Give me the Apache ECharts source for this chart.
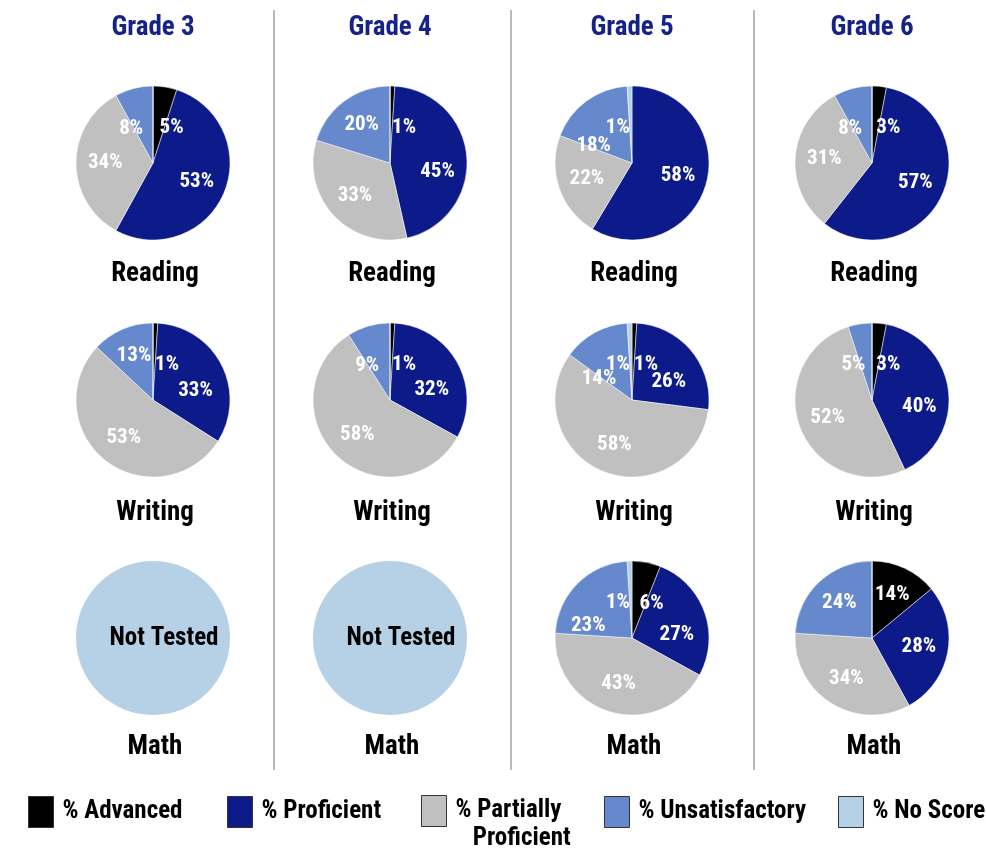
<!DOCTYPE html>
<html>
<head>
<meta charset="utf-8">
<title>Grade results</title>
<script src="https://cdn.jsdelivr.net/npm/echarts@6/dist/echarts.min.js"></script>
<style>
  html, body { margin: 0; padding: 0; background: #fff; }
  #chart { width: 986px; height: 852px; }
</style>
</head>
<body>
<div id="chart"></div>
<script>
// data
var grades = ['Grade 3', 'Grade 4', 'Grade 5', 'Grade 6'];
var subjects = ['Reading', 'Writing', 'Math'];
var levels = ['% Advanced', '% Proficient', '% Partially Proficient', '% Unsatisfactory', '% No Score'];
// order: advanced, proficient, partially, unsatisfactory, no score
var reading = [[5, 53, 34, 8, 0], [1, 45, 33, 20, 0], [0, 58, 22, 18, 1], [3, 57, 31, 8, 0]];
var writing = [[1, 33, 53, 13, 0], [1, 32, 58, 9, 0], [1, 26, 58, 14, 1], [3, 40, 52, 5, 0]];
var math = [null, null, [6, 27, 43, 23, 1], [14, 28, 34, 24, 0]];
var notTested = 'Not Tested';

var colors = ['#000000', '#0c1a8a', '#c0c0c0', '#6688cc', '#b6d0e6'];
var font = '"Roboto Condensed", "Open Sans Condensed", sans-serif';

var colX = [153, 390, 632, 872];
var rowY = [163, 400, 638];
var subjectY = [274, 513, 747];
var R = 77;

var chart = echarts.init(document.getElementById('chart'));

function pieData(vals) {
  return vals.map(function (v, i) {
    return {
      name: levels[i],
      value: v,
      itemStyle: { color: colors[i] },
      label: { show: v > 0 }
    };
  });
}

// small slices near the top: put the label on one side of the start line,
// bigger ones a bit further out from the centre
function makeLabelLayout(vals, cx, cy) {
  return function (p) {
    var i = p.dataIndex;
    var v = vals[i];
    var rc = p.labelRect;
    var lx = rc.x + rc.width / 2, ly = rc.y + rc.height / 2;
    var out = { hideOverlap: false, moveOverlap: false };
    if (v < 10 && (i === 0 || i >= 3)) {
      var side = i === 0 ? 1 : -1;
      out.dx = (lx - cx) * -0.15 + side * (rc.width / 2 + 1);
      out.dy = (ly - cy) * -0.15;
    } else {
      out.dx = (lx - cx) * 0.15;
      out.dy = (ly - cy) * 0.15;
      // make room for the tiny labels at the top
      if (i === 3 && vals[4] > 0) {
        out.dx -= 10;
        out.dy += rc.height;
      }
      if (i === 1 && vals[0] > 0 && vals[0] < 10 && ly < cy + 10) {
        out.dy += rc.height * 0.6;
      }
    }
    return out;
  };
}

var series = [];
var table = [reading, writing, math];
table.forEach(function (rows, r) {
  rows.forEach(function (vals, c) {
    if (vals) {
      series.push({
        type: 'pie',
        center: [colX[c], rowY[r]],
        radius: R,
        startAngle: 90,
        clockwise: true,
        silent: true,
        avoidLabelOverlap: false,
        itemStyle: { borderColor: '#ffffff', borderWidth: 0.5 },
        label: {
          position: 'inside',
          formatter: '{c}%',
          color: '#ffffff',
          fontFamily: font,
          fontWeight: 'bold',
          fontSize: 21
        },
        labelLine: { show: false },
        labelLayout: makeLabelLayout(vals, colX[c], rowY[r]),
        data: pieData(vals)
      });
    } else {
      series.push({
        type: 'pie',
        center: [colX[c], rowY[r]],
        radius: R,
        silent: true,
        avoidLabelOverlap: false,
        label: {
          position: 'center',
          formatter: notTested,
          color: '#000000',
          fontFamily: font,
          fontWeight: 'bold',
          fontSize: 25,
          offset: [11, 1]
        },
        labelLine: { show: false },
        data: [{ name: levels[4], value: 100, itemStyle: { color: colors[4] } }]
      });
    }
  });
});

var graphic = [];
grades.forEach(function (g, c) {
  graphic.push({
    type: 'text', x: colX[c], y: 28,
    style: { text: g, align: 'center', verticalAlign: 'middle', fill: '#14228a',
      fontFamily: font, fontWeight: 'bold', fontSize: 27 }
  });
  subjects.forEach(function (s, r) {
    graphic.push({
      type: 'text', x: colX[c] + 2, y: subjectY[r],
      style: { text: s, align: 'center', verticalAlign: 'middle', fill: '#000000',
        fontFamily: font, fontWeight: 'bold', fontSize: 27 }
    });
  });
});
[274, 511, 754].forEach(function (x) {
  graphic.push({
    type: 'line', shape: { x1: x, y1: 10, x2: x, y2: 770 },
    style: { stroke: '#777777', lineWidth: 1 }
  });
});

var legendLeft = [28, 227, 421, 604, 838];
var legends = levels.map(function (name, i) {
  var multi = i === 2;
  return {
    data: [name],
    left: legendLeft[i],
    top: multi ? 769 : 796,
    orient: 'horizontal',
    padding: 0,
    icon: 'rect',
    itemWidth: 25,
    itemHeight: 31,
    selectedMode: false,
    itemStyle: { borderColor: '#333333', borderWidth: 1 },
    // empty first line keeps "% Partially" level with the box
    formatter: multi ? '\n% Partially\n   Proficient' : name,
    textStyle: {
      color: '#000000', fontFamily: font, fontWeight: 'bold', fontSize: 25,
      lineHeight: 28,
      padding: [0, 0, 0, 4]
    }
  };
});

chart.setOption({
  animation: false,
  backgroundColor: '#ffffff',
  legend: legends,
  graphic: graphic,
  series: series
});
</script>
</body>
</html>
